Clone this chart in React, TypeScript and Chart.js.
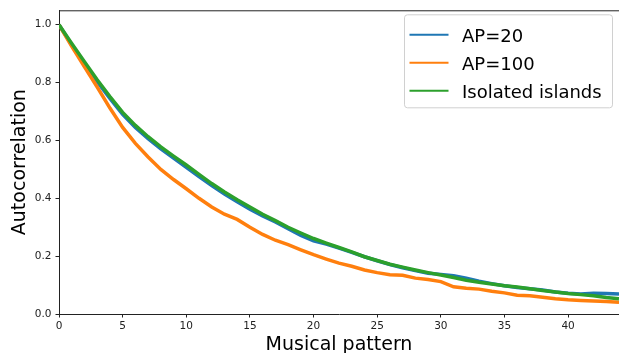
import React, { useEffect, useRef } from "react";
import { Chart, registerables } from "chart.js";

Chart.register(...registerables);

const lags: number[] = Array.from({ length: 45 }, (_, i) => i);

const seriesLabels = ["AP=20", "AP=100", "Isolated islands"];
const seriesColors = ["#1f77b4", "#ff7f0e", "#2ca02c"];

const ap20: number[] = [
  1.0, 0.93, 0.866, 0.803, 0.745, 0.69, 0.645, 0.606, 0.571, 0.539,
  0.507, 0.475, 0.444, 0.415, 0.388, 0.362, 0.339, 0.318, 0.295, 0.272,
  0.253, 0.242, 0.228, 0.213, 0.198, 0.184, 0.171, 0.16, 0.15, 0.141,
  0.137, 0.132, 0.124, 0.113, 0.105, 0.098, 0.092, 0.087, 0.083, 0.076,
  0.072, 0.069, 0.072, 0.071, 0.069,
];

const ap100: number[] = [
  1.0, 0.925, 0.855, 0.785, 0.712, 0.645, 0.59, 0.543, 0.5, 0.465,
  0.433, 0.4, 0.37, 0.345, 0.327, 0.3, 0.275, 0.255, 0.24, 0.222,
  0.205, 0.19, 0.176, 0.165, 0.152, 0.143, 0.136, 0.134, 0.124, 0.119,
  0.112, 0.094, 0.089, 0.086, 0.079, 0.073, 0.065, 0.063, 0.058, 0.053,
  0.049, 0.047, 0.045, 0.043, 0.041,
];

const isolated: number[] = [
  1.0, 0.935, 0.872, 0.81, 0.752, 0.697, 0.652, 0.613, 0.578, 0.546,
  0.515, 0.483, 0.451, 0.422, 0.395, 0.37, 0.345, 0.323, 0.3, 0.28,
  0.261, 0.245, 0.23, 0.215, 0.198, 0.185, 0.172, 0.162, 0.152, 0.143,
  0.135, 0.126, 0.117, 0.11, 0.104, 0.098, 0.093, 0.087, 0.081, 0.076,
  0.071, 0.067, 0.063, 0.057, 0.053,
];

const seriesValues = [ap20, ap100, isolated];

const xTitle = "Musical pattern";
const yTitle = "Autocorrelation";

const FONT = "'DejaVu Sans', sans-serif";

const framePlugin = {
  id: "frameAndLegend",
  afterDraw(chart: any) {
    const { ctx, chartArea } = chart;
    ctx.save();
    // top spine
    ctx.strokeStyle = "#222";
    ctx.lineWidth = 1;
    ctx.beginPath();
    ctx.moveTo(chartArea.left, chartArea.top + 0.5);
    ctx.lineTo(chartArea.right, chartArea.top + 0.5);
    ctx.stroke();

    // legend box
    const w = 208;
    const h = 93;
    const x0 = chartArea.right - 7 - w + 0.5;
    const y0 = chartArea.top + 4 + 0.5;
    const r = 3;
    ctx.beginPath();
    ctx.moveTo(x0 + r, y0);
    ctx.lineTo(x0 + w - r, y0);
    ctx.arcTo(x0 + w, y0, x0 + w, y0 + r, r);
    ctx.lineTo(x0 + w, y0 + h - r);
    ctx.arcTo(x0 + w, y0 + h, x0 + w - r, y0 + h, r);
    ctx.lineTo(x0 + r, y0 + h);
    ctx.arcTo(x0, y0 + h, x0, y0 + h - r, r);
    ctx.lineTo(x0, y0 + r);
    ctx.arcTo(x0, y0, x0 + r, y0, r);
    ctx.closePath();
    ctx.fillStyle = "rgba(255,255,255,0.8)";
    ctx.fill();
    ctx.strokeStyle = "#d0d0d0";
    ctx.stroke();

    seriesLabels.forEach((label, i) => {
      const y = y0 + 20 + i * 28;
      ctx.strokeStyle = seriesColors[i];
      ctx.lineWidth = 2;
      ctx.beginPath();
      ctx.moveTo(x0 + 5, y);
      ctx.lineTo(x0 + 44, y);
      ctx.stroke();
      ctx.fillStyle = "#000";
      ctx.font = `18px ${FONT}`;
      ctx.textAlign = "left";
      ctx.textBaseline = "alphabetic";
      ctx.fillText(label, x0 + 57.5, y + 6.8);
    });
    ctx.restore();
  },
};

export default function App() {
  const ref = useRef<HTMLCanvasElement | null>(null);

  useEffect(() => {
    if (!ref.current) return;
    Chart.defaults.font.family = FONT;
    const order = [3, 2, 1];
    const chart = new Chart(ref.current, {
      type: "line",
      data: {
        labels: lags,
        datasets: seriesLabels.map((label, i) => ({
          label,
          data: lags.map((x, j) => ({ x, y: seriesValues[i][j] })),
          borderColor: seriesColors[i],
          backgroundColor: seriesColors[i],
          borderWidth: 3.5,
          pointRadius: 0,
          tension: 0,
          fill: false,
          order: order[i],
        })),
      },
      options: {
        responsive: false,
        animation: false,
        events: [],
        layout: { padding: { top: 9, left: 0, right: 0, bottom: 0 } },
        plugins: {
          legend: { display: false },
          tooltip: { enabled: false },
        },
        scales: {
          x: {
            type: "linear",
            min: 0,
            max: 44,
            afterFit: (s: any) => {
              s.height = 39;
            },
            ticks: {
              stepSize: 5,
              includeBounds: false,
              color: "#222",
              font: { size: 10.5, family: FONT },
              padding: 2,
              maxRotation: 0,
            },
            grid: {
              drawOnChartArea: false,
              drawTicks: true,
              tickLength: 3.5,
              tickColor: "#222",
              tickWidth: 1,
            },
            border: { display: true, color: "#222", width: 1 },
            title: {
              display: true,
              text: xTitle,
              color: "#000",
              font: { size: 19, family: FONT, lineHeight: 0.8 },
              padding: { top: 0, bottom: 0.4 },
            },
          },
          y: {
            type: "linear",
            min: 0,
            max: 1.05,
            afterFit: (s: any) => {
              s.width = 59;
            },
            ticks: {
              stepSize: 0.2,
              includeBounds: false,
              color: "#222",
              font: { size: 10.5, family: FONT },
              padding: 4,
              callback: (v: any) => Number(v).toFixed(1),
            },
            grid: {
              drawOnChartArea: false,
              drawTicks: true,
              tickLength: 3.5,
              tickColor: "#222",
              tickWidth: 1,
            },
            border: { display: true, color: "#222", width: 1 },
            title: {
              display: true,
              text: yTitle,
              color: "#000",
              font: { size: 19, family: FONT, lineHeight: 0.8 },
              padding: { top: 12.8, bottom: 0 },
            },
          },
        },
      },
      plugins: [framePlugin],
    });
    return () => chart.destroy();
  }, []);

  return (
    <div style={{ position: "fixed", left: 0, top: 0, width: 619, height: 353 }}>
      <canvas ref={ref} width={619} height={353} style={{ display: "block" }} />
    </div>
  );
}
